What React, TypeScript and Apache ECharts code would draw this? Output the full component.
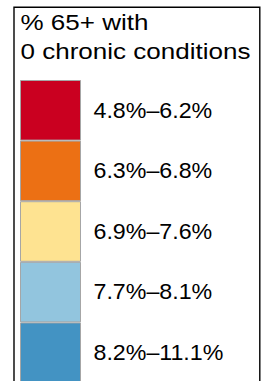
import React, { useEffect, useRef } from 'react';
import * as echarts from 'echarts';

const titleLines = ['% 65+ with', '0 chronic conditions'];
const binLabels = ['4.8%–6.2%', '6.3%–6.8%', '6.9%–7.6%', '7.7%–8.1%', '8.2%–11.1%'];
const binColors = ['#ca0020', '#ec7014', '#fee391', '#92c5de', '#4393c3'];

export default function App() {
  const ref = useRef<HTMLDivElement>(null);
  useEffect(() => {
    const chart = echarts.init(ref.current!, null, { renderer: 'svg' });
    const font = 'Liberation Sans';
    const keyTop = 80;
    const keyStep = 60.6;
    const keyLeft = 20.5;
    const keyW = 60;
    const elements: any[] = [];
    elements.push({
      type: 'rect',
      shape: { x: 14, y: 7.3, width: 245.8, height: 420 },
      style: { fill: '#fff', stroke: '#000', lineWidth: 1.4 },
    });
    titleLines.forEach((t, i) => {
      elements.push({
        type: 'text',
        x: 20.5,
        y: 22.8 + i * 28.4,
        scaleX: 1.21,
        originX: 0,
        originY: 0,
        style: { text: t, fontFamily: font, fontSize: 21.5, fill: '#000', align: 'left', verticalAlign: 'middle' },
      });
    });
    binLabels.forEach((t, i) => {
      const y0 = keyTop + i * keyStep;
      elements.push({
        type: 'rect',
        shape: { x: keyLeft, y: y0 + 0.5, width: keyW, height: keyStep - 1 },
        style: { fill: binColors[i], stroke: '#a6a6a6', lineWidth: 1 },
      });
      elements.push({
        type: 'text',
        x: 93.5,
        y: y0 + keyStep / 2,
        scaleX: 1.08,
        originX: 0,
        originY: 0,
        style: { text: t, fontFamily: font, fontSize: 21.5, fill: '#000', align: 'left', verticalAlign: 'middle' },
      });
    });
    chart.setOption({
      animation: false,
      backgroundColor: '#fff',
      graphic: { elements },
    });
    return () => chart.dispose();
  }, []);
  return <div ref={ref} style={{ position: 'fixed', left: 0, top: 0, width: 269, height: 381 }} />;
}
